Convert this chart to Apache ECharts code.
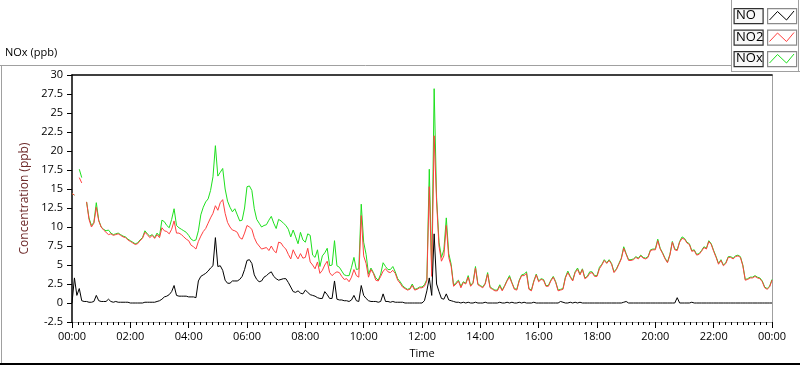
<!DOCTYPE html>
<html>
<head>
<meta charset="utf-8">
<script src="https://cdn.jsdelivr.net/npm/echarts@6/dist/echarts.min.js"></script>
<style>
  html, body { margin: 0; padding: 0; background: #ffffff; }
  #chart { width: 800px; height: 365px; }
</style>
</head>
<body>
<div id="chart"></div>
<script>
// ---- data (5-minute samples starting 00:00, values in ppb) ----
const sampleStepMinutes = 5;
const seriesNames = ['NO', 'NO2', 'NOx'];
const yTicks = { min: -2.5, max: 30, step: 2.5 };
const xTicks = { min: 0, max: 1440, step: 120 };

const NO2 = [
  14.4, 14.2, null, 16.5, 15.8, null, 13.3, 11.0, 10.0, 10.5, 12.6, 10.8,
  10.0, 9.6, 9.3, 9.0, 9.1, 8.9, 9.0, 9.1, 8.9, 8.7, 8.6, 8.3,
  8.1, 7.9, 7.7, 7.8, 8.2, 8.5, 9.3, 9.0, 8.6, 8.9, 8.5, 9.0,
  8.6, 9.9, 9.5, 9.4, 9.1, 9.7, 10.8, 9.2, 9.2, 9.0, 8.7, 8.4,
  8.2, 7.6, 7.4, 7.1, 8.1, 8.8, 9.4, 9.8, 10.5, 11.2, 11.8, 12.8,
  12.2, 13.2, 13.6, 11.8, 10.6, 10.0, 9.6, 9.5, 9.3, 8.6, 8.4, 9.2,
  10.2, 10.0, 9.7, 8.6, 7.9, 7.5, 7.1, 7.2, 7.3, 6.9, 7.5, 6.9,
  6.6, 8.0, 7.9, 7.4, 7.1, 6.4, 5.8, 7.0, 6.3, 5.8, 6.5, 5.9,
  6.0, 7.2, 5.4, 5.0, 4.5, 5.4, 3.9, 4.3, 5.0, 5.5, 4.0, 3.6,
  3.9, 4.1, 4.0, 3.5, 3.1, 3.2, 2.8, 3.4, 4.4, 3.6, 3.4, 11.5,
  6.2, 5.2, 3.4, 4.4, 3.9, 3.0, 2.9, 3.5, 4.2, 4.5, 4.1, 4.0,
  4.3, 3.9, 3.0, 2.6, 2.1, 1.9, 1.7, 1.8, 2.3, 1.7, 1.8, 2.0,
  2.0, 2.2, 2.9, 15.3, 3.5, 22.0, 13.3, 7.5, 5.5, 6.2, 10.2, 6.0,
  4.8, 2.2, 2.5, 2.9, 2.0, 2.7, 2.5, 3.4, 2.2, 2.6, 4.6, 2.4,
  2.2, 2.0, 2.5, 3.8, 2.0, 1.8, 1.6, 1.6, 2.2, 1.6, 2.2, 2.9,
  3.4, 2.6, 1.8, 1.7, 2.9, 3.6, 3.6, 3.9, 1.8, 1.6, 2.8, 3.7,
  2.8, 3.1, 3.0, 2.2, 2.2, 2.9, 3.4, 2.7, 1.6, 1.7, 1.8, 3.3,
  4.0, 3.4, 2.9, 4.0, 4.4, 3.7, 4.4, 3.2, 3.4, 3.9, 4.0, 3.5,
  3.5, 4.5, 5.0, 5.6, 5.2, 5.6, 5.1, 4.0, 4.4, 5.1, 5.8, 7.2,
  6.4, 5.6, 5.6, 5.7, 6.0, 5.8, 6.2, 5.9, 5.8, 6.0, 6.9, 7.0,
  7.0, 8.2, 7.1, 6.5, 5.8, 5.3, 6.3, 8.0, 7.0, 6.9, 8.0, 8.5,
  8.4, 7.9, 7.7, 6.8, 6.9, 6.3, 6.4, 6.8, 7.3, 7.1, 8.1, 7.7,
  6.8, 6.0, 5.1, 5.6, 4.9, 5.2, 6.0, 6.0, 5.8, 6.1, 6.2, 6.0,
  4.9, 3.0, 3.1, 3.3, 3.3, 3.5, 3.3, 3.2, 2.8, 2.0, 1.8, 2.1,
  3.0
];

const NOx = [
  14.4, 14.2, null, 17.6, 16.5, null, 13.3, 11.2, 10.2, 10.6, 13.2, 10.9,
  10.0, 9.7, 9.5, 9.6, 9.2, 9.0, 9.1, 9.2, 9.0, 8.8, 8.7, 8.4,
  8.2, 8.0, 7.8, 7.9, 8.3, 8.6, 9.5, 9.1, 8.8, 9.0, 8.6, 9.2,
  8.8, 10.9, 10.7, 10.2, 9.9, 11.0, 12.4, 10.2, 9.9, 9.7, 9.5, 9.3,
  8.9, 8.4, 8.2, 8.3, 9.5, 11.6, 12.6, 13.3, 13.7, 14.8, 16.6, 20.7,
  16.7, 17.2, 17.7, 15.0, 13.4, 12.6, 12.0, 12.4, 11.6, 10.8, 10.9, 12.5,
  15.3, 15.4, 14.8, 12.4, 11.0, 10.5, 10.0, 10.2, 10.3, 10.9, 11.4, 10.5,
  9.8, 11.0, 10.8, 10.5, 10.2, 9.7, 8.7, 9.6, 8.7, 7.8, 9.3, 8.3,
  8.0, 9.1, 8.9, 6.3, 6.0, 7.0, 4.8, 6.2, 6.6, 7.2, 4.9, 5.0,
  8.2, 4.9, 4.7, 4.2, 3.7, 3.6, 3.6, 4.7, 6.0, 4.4, 4.5, 13.0,
  8.0, 6.4, 3.8, 4.6, 4.0, 3.3, 3.0, 3.8, 5.3, 4.8, 4.4, 4.4,
  4.8, 4.1, 3.2, 2.8, 2.3, 2.0, 1.8, 1.9, 2.5, 1.8, 1.9, 2.1,
  2.1, 2.4, 3.1, 17.6, 4.3, 28.2, 13.9, 8.0, 6.0, 7.0, 11.2, 6.5,
  5.1, 2.3, 2.7, 3.0, 2.2, 2.8, 2.6, 3.6, 2.3, 2.7, 4.8, 2.5,
  2.3, 2.1, 2.6, 4.0, 2.1, 1.9, 1.7, 1.7, 2.4, 1.7, 2.3, 3.0,
  3.6, 2.7, 1.9, 1.8, 3.0, 3.7, 3.8, 4.1, 1.9, 1.7, 2.9, 3.8,
  2.9, 3.2, 3.1, 2.3, 2.3, 3.0, 3.5, 2.8, 1.7, 1.8, 1.9, 3.4,
  4.2, 3.5, 3.0, 4.1, 4.6, 3.8, 4.5, 3.3, 3.5, 4.1, 4.1, 3.6,
  3.6, 4.7, 5.1, 5.7, 5.3, 5.7, 5.2, 4.1, 4.5, 5.2, 5.9, 7.4,
  6.5, 5.7, 5.7, 5.8, 6.1, 5.9, 6.3, 6.0, 5.9, 6.1, 7.0, 7.1,
  7.1, 8.4, 7.2, 6.6, 5.9, 5.4, 6.4, 8.1, 7.1, 7.0, 8.1, 8.7,
  8.5, 8.0, 7.8, 6.9, 7.0, 6.4, 6.5, 6.9, 7.4, 7.2, 8.2, 7.8,
  6.9, 6.1, 5.2, 5.7, 5.0, 5.3, 6.1, 6.1, 5.9, 6.2, 6.3, 6.1,
  5.0, 3.1, 3.2, 3.4, 3.4, 3.6, 3.4, 3.3, 2.9, 2.1, 1.9, 2.2,
  3.1
];

const NO = [
  0.0, 3.3, 1.0, 1.9, 0.3, 0.2, 0.2, 0.1, 0.1, 0.2, 1.0, 0.3,
  0.2, 0.2, 0.2, 0.5, 0.2, 0.1, 0.2, 0.1, 0.1, 0.1, 0.1, 0.1,
  0.0, 0.0, 0.0, 0.0, 0.0, 0.0, 0.1, 0.1, 0.1, 0.1, 0.1, 0.2,
  0.3, 0.5, 0.8, 0.9, 1.1, 1.5, 2.3, 1.0, 0.9, 0.9, 0.9, 0.9,
  0.8, 0.8, 0.8, 0.7, 2.9, 3.5, 3.7, 3.9, 4.2, 4.6, 4.9, 8.6,
  4.8, 4.9, 4.3, 3.0, 2.6, 2.6, 2.9, 2.9, 2.9, 3.1, 3.5, 4.4,
  5.6, 5.7, 5.2, 3.7, 3.1, 2.8, 2.9, 3.4, 3.6, 3.9, 4.1, 3.5,
  3.2, 3.0, 3.1, 3.2, 3.2, 2.7, 2.1, 1.5, 1.4, 1.6, 1.3, 1.2,
  1.7, 1.4, 1.1, 1.0, 0.9, 0.7, 0.6, 0.6, 1.5, 1.1, 0.6, 0.6,
  2.9, 0.5, 0.4, 0.4, 0.3, 0.3, 0.2, 0.4, 1.0, 0.3, 0.2, 2.3,
  1.0, 0.6, 0.3, 0.2, 0.2, 0.2, 0.1, 0.2, 1.2, 0.2, 0.2, 0.1,
  0.2, 0.1, 0.1, 0.1, 0.1, 0.0, 0.0, 0.0, 0.0, 0.0, 0.0, 0.0,
  0.0, 0.3, 1.6, 3.3, 1.0, 9.1, 2.5, 1.5, 0.6, 0.5, 1.2, 0.4,
  0.3, 0.2, 0.1, 0.1, 0.0, 0.1, 0.0, 0.1, 0.0, 0.0, 0.1, 0.0,
  0.0, 0.0, 0.1, 0.0, 0.0, 0.0, 0.0, 0.0, 0.1, 0.0, 0.0, 0.1,
  0.0, 0.1, 0.0, 0.0, 0.1, 0.0, 0.1, 0.0, 0.0, 0.0, 0.1, 0.0,
  0.0, 0.0, 0.0, 0.0, 0.0, 0.0, 0.0, 0.0, 0.0, 0.2, 0.1, 0.0,
  0.0, 0.1, 0.0, 0.1, 0.0, 0.1, 0.0, 0.0, 0.0, 0.0, 0.0, 0.0,
  0.0, 0.0, 0.0, 0.0, 0.0, 0.0, 0.0, 0.0, 0.0, 0.0, 0.0, 0.1,
  0.2, 0.0, 0.0, 0.0, 0.0, 0.0, 0.0, 0.0, 0.0, 0.0, 0.0, 0.0,
  0.0, 0.0, 0.0, 0.0, 0.0, 0.0, 0.0, 0.0, 0.0, 0.7, 0.0, 0.0,
  0.0, 0.0, 0.0, 0.1, 0.0, 0.0, 0.0, 0.0, 0.0, 0.0, 0.0, 0.0,
  0.0, 0.0, 0.0, 0.0, 0.0, 0.0, 0.0, 0.0, 0.0, 0.0, 0.0, 0.0,
  0.0, 0.0, 0.0, 0.0, 0.0, 0.0, 0.0, 0.0, 0.0, 0.0, 0.0, 0.0,
  0.0
];

// ---- build ----
const FONT = "'Open Sans', 'Noto Sans', sans-serif";
function pairs(values) {
  return values.map((v, i) => [i * sampleStepMinutes, v]);
}
function hhmm(v) {
  const h = Math.floor(v / 60) % 24, m = Math.round(v % 60);
  return (h < 10 ? '0' : '') + h + ':' + (m < 10 ? '0' : '') + m;
}
const colors = { NO: '#000000', NO2: '#ff4040', NOx: '#1ee01e' };

const chart = echarts.init(document.getElementById('chart'), null, { renderer: 'canvas' });

// legend drawn as boxed LabVIEW-style plot legend
const legendGraphics = [];
seriesNames.forEach((name, i) => {
  const top = 8 + i * 21.5;
  legendGraphics.push({
    type: 'rect', left: 733.5, top: top, silent: true,
    shape: { width: 29, height: 15 },
    style: { fill: '#f8f8f8', stroke: '#303030', lineWidth: 1.2 }
  });
  legendGraphics.push({
    type: 'text', left: 736, top: top + 1, silent: true,
    style: { text: name, font: '13px ' + FONT, fill: '#000' }
  });
  legendGraphics.push({
    type: 'rect', left: 767, top: top, silent: true,
    shape: { width: 29, height: 15 },
    style: { fill: '#ffffff', stroke: '#8a8a8a', lineWidth: 1.2 }
  });
  legendGraphics.push({
    type: 'polyline', silent: true,
    shape: { points: [[769.5, top + 12], [777.5, top + 3.5], [786.5, top + 12], [794, top + 3]] },
    style: { stroke: colors[name], lineWidth: 1, fill: null }
  });
});

const frameGraphics = [
  { type: 'line', silent: true, shape: { x1: 0, y1: 65.5, x2: 731, y2: 65.5 }, style: { stroke: '#a0a0a0', lineWidth: 1 } },
  { type: 'line', silent: true, shape: { x1: 1.5, y1: 65, x2: 1.5, y2: 363 }, style: { stroke: '#a0a0a0', lineWidth: 1 } },
  { type: 'line', silent: true, shape: { x1: 0, y1: 364, x2: 800, y2: 364 }, style: { stroke: '#000000', lineWidth: 2 } },
  { type: 'line', silent: true, shape: { x1: 731.5, y1: 0, x2: 731.5, y2: 72 }, style: { stroke: '#a0a0a0', lineWidth: 1 } },
  { type: 'line', silent: true, shape: { x1: 731, y1: 71.5, x2: 800, y2: 71.5 }, style: { stroke: '#a0a0a0', lineWidth: 1 } },
  { type: 'line', silent: true, shape: { x1: 798.5, y1: 0, x2: 798.5, y2: 72 }, style: { stroke: '#a0a0a0', lineWidth: 1 } },
  { type: 'text', left: 5, top: 47, silent: true, style: { text: 'NOx (ppb)', font: '11px ' + FONT, fill: '#000' } }
];

const option = {
  animation: false,
  backgroundColor: '#ffffff',
  textStyle: { fontFamily: FONT },
  grid: { left: 72, right: 28, top: 75, bottom: 43, containLabel: false },
  xAxis: [{
    type: 'value', min: xTicks.min, max: xTicks.max, interval: xTicks.step,
    name: 'Time', nameLocation: 'middle', nameGap: 26,
    nameTextStyle: { color: '#000', fontSize: 11, fontFamily: FONT },
    axisLine: { show: true, onZero: false, lineStyle: { color: '#a0a0a0', width: 1 } },
    axisTick: { show: true, length: 6, lineStyle: { color: '#000', width: 1 } },
    minorTick: { show: true, splitNumber: 10, length: 3, lineStyle: { color: '#000', width: 1 } },
    axisLabel: { color: '#000', fontSize: 11, fontFamily: FONT, margin: 9, formatter: hhmm },
    splitLine: { show: false }
  }, {
    type: 'value', position: 'top', min: xTicks.min, max: xTicks.max,
    axisLine: { show: true, onZero: false, lineStyle: { color: '#000', width: 1.5 } },
    axisTick: { show: false }, axisLabel: { show: false }, splitLine: { show: false }
  }],
  yAxis: [{
    type: 'value', min: yTicks.min, max: yTicks.max, interval: yTicks.step,
    name: 'Concentration (ppb)', nameLocation: 'middle', nameGap: 29,
    nameTextStyle: { color: '#6e2a2a', fontSize: 12, fontFamily: FONT },
    axisLine: { show: true, onZero: false, lineStyle: { color: '#000', width: 1.5 } },
    axisTick: { show: true, length: 5, lineStyle: { color: '#000', width: 1 } },
    axisLabel: { color: '#000', fontSize: 11, fontFamily: FONT, margin: 9 },
    splitLine: { show: false }
  }, {
    type: 'value', position: 'right', min: yTicks.min, max: yTicks.max,
    axisLine: { show: true, onZero: false, lineStyle: { color: '#a0a0a0', width: 1 } },
    axisTick: { show: false }, axisLabel: { show: false }, splitLine: { show: false }
  }],
  series: [
    { name: 'NOx', type: 'line', data: pairs(NOx), showSymbol: false, connectNulls: false,
      lineStyle: { color: colors.NOx, width: 1 }, itemStyle: { color: colors.NOx } },
    { name: 'NO2', type: 'line', data: pairs(NO2), showSymbol: false, connectNulls: false,
      lineStyle: { color: colors.NO2, width: 1 }, itemStyle: { color: colors.NO2 } },
    { name: 'NO', type: 'line', data: pairs(NO), showSymbol: false, connectNulls: false,
      lineStyle: { color: colors.NO, width: 1 }, itemStyle: { color: colors.NO } }
  ],
  graphic: frameGraphics.concat(legendGraphics)
};
chart.setOption(option);
</script>
</body>
</html>
